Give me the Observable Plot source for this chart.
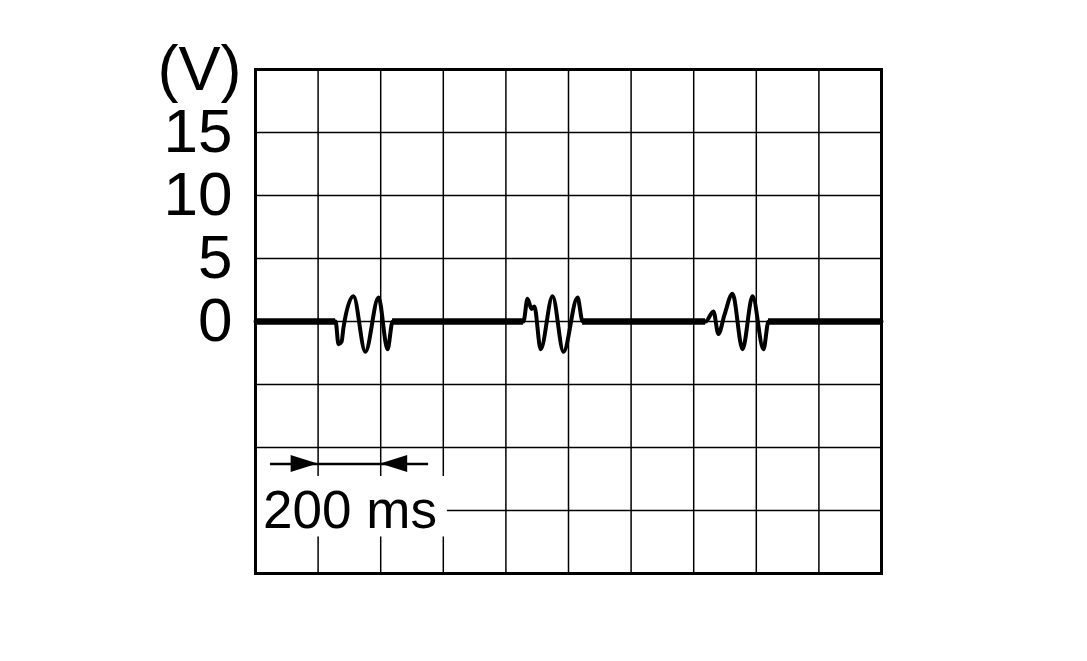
<!DOCTYPE html>
<html>
<head>
<meta charset="utf-8">
<script src="https://cdn.jsdelivr.net/npm/d3@7"></script>
<script src="https://cdn.jsdelivr.net/npm/@observablehq/plot@0.6"></script>
<style>
  html, body { margin: 0; padding: 0; background: #fff; }
  svg { display: block; }
</style>
</head>
<body>
<div id="chart"></div>
<script>
// Time (ms) and voltage (V) of the traced signal
const timeMs = [0, 256, 265, 275, 281, 313, 351, 393, 422, 438,
                856, 869, 882, 891, 911, 949, 984, 1029, 1045,
                1438, 1463, 1479, 1498, 1524, 1556, 1588, 1623, 1639, 2000];
const volts  = [0, 0, -1.8, -1.6, -0.5, 2.0, -2.4, 1.9, -2.2, 0,
                0, 1.8, 1.0, 1.2, -2.2, 2.0, -2.4, 1.9, 0,
                0, 0.8, -1.0, 0.5, 2.2, -2.2, 2.0, -2.2, 0, 0];
// Flat (noisy) baseline stretches, ms
const flatStart = [0, 438, 1045, 1639];
const flatEnd   = [256, 856, 1438, 2000];
// Grid and ticks
const xGrid = d3.range(0, 2001, 200);
const yGrid = d3.range(-20, 21, 5);
const yTicks = [0, 5, 10, 15];
const unitLabel = "(V)";
const scaleLabel = "200 ms";

const signal = timeMs.map((t, i) => ({t, v: volts[i]}));
const flats = flatStart.map((s, i) => ({s, e: flatEnd[i]}));

const font = "'Liberation Sans', Arial, Helvetica, sans-serif";

const plot = Plot.plot({
  width: 1087,
  height: 661,
  marginLeft: 255,
  marginRight: 206,
  marginTop: 69,
  marginBottom: 88,
  style: {fontFamily: font, background: "white", color: "black"},
  x: {domain: [0, 2000], axis: null},
  y: {domain: [-20, 20], axis: null},
  marks: [
    Plot.ruleX(xGrid, {stroke: "black", strokeWidth: 1.5}),
    Plot.ruleY(yGrid, {stroke: "black", strokeWidth: 1.5}),
    // white box behind scale label
    Plot.rect([0], {x1: 4, x2: 613, y1: -12.3, y2: -17.1, fill: "white"}),
    Plot.axisY({ticks: yTicks, tickSize: 0, tickPadding: 23, fontSize: 62, label: null}),
    Plot.text([unitLabel], {x: 0, y: 20, dx: -14, textAnchor: "end", fontSize: 63, fill: "black"}),
    Plot.ruleY(flats, {x1: "s", x2: "e", y: 0, stroke: "black", strokeWidth: 6.5}),
    Plot.line(signal, {x: "t", y: "v", stroke: "black", strokeWidth: 4, curve: "monotone-x"}),
    // 200 ms scale line
    Plot.ruleY([0], {x1: 48, x2: 553, y: -11.3, stroke: "black", strokeWidth: 2.5}),
    Plot.text([scaleLabel], {x: 302, y: -15, fontSize: 53, fill: "black", dy: 1}),
    Plot.frame({stroke: "black", strokeWidth: 3})
  ]
});

// Filled arrowheads, positioned via the plot's own scales
const xs = plot.scale("x"), ys = plot.scale("y");
const svg = d3.select(plot);
const ay = ys.apply(-11.3);
const tips = [{x: xs.apply(200), dir: 1}, {x: xs.apply(400), dir: -1}];
svg.append("g").selectAll("path").data(tips).join("path")
  .attr("d", d => `M${d.x},${ay} L${d.x - d.dir * 27},${ay - 8.5} L${d.x - d.dir * 27},${ay + 8.5} Z`)
  .attr("fill", "black");

document.getElementById("chart").appendChild(plot);
</script>
</body>
</html>
